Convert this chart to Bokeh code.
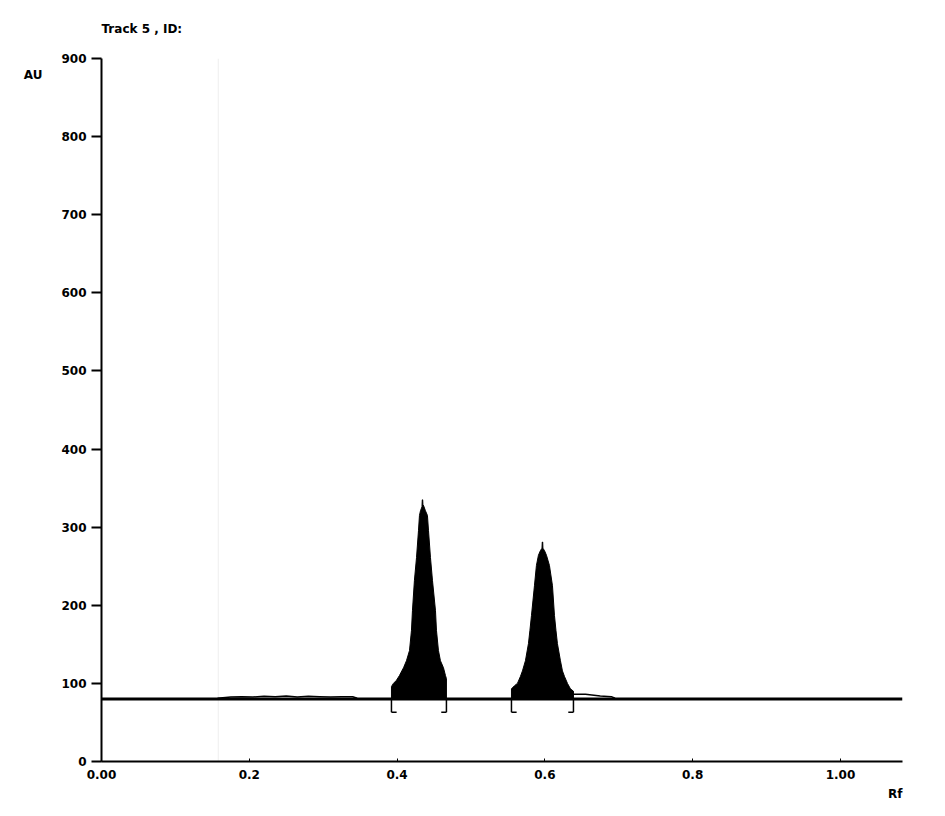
from bokeh.plotting import figure
from bokeh.models import Range1d, FixedTicker, Title
from bokeh.embed import file_html
from bokeh.resources import INLINE

# ---------------- data ----------------
x_ticks = [0.0, 0.2, 0.4, 0.6, 0.8, 1.0]
x_tick_labels = ["0.00", "0.2", "0.4", "0.6", "0.8", "1.00"]
y_ticks = [0, 100, 200, 300, 400, 500, 600, 700, 800, 900]

baseline_au = 80
rf_max = 1.084

# peak 1 outline (Rf, AU)
peak1_rf = [0.3924, 0.3924, 0.3951, 0.3992, 0.4032, 0.4087, 0.4127, 0.4168, 0.4195,
            0.4208, 0.4235, 0.4263, 0.4290, 0.4303, 0.4317, 0.4337, 0.4341, 0.4347,
            0.4351, 0.4357, 0.4384, 0.4411, 0.4425, 0.4452, 0.4479, 0.4520, 0.4533,
            0.4560, 0.4587, 0.4628, 0.4655, 0.4668, 0.4668]
peak1_au = [80, 96, 100, 104, 110, 120, 129, 142, 168,
            193, 232, 261, 296, 315, 321, 326, 335, 335,
            326, 328, 321, 315, 296, 261, 232, 193, 168,
            142, 129, 120, 110, 106, 80]

# peak 2 outline (Rf, AU)
peak2_rf = [0.5548, 0.5548, 0.5589, 0.5629, 0.5670, 0.5697, 0.5737, 0.5778, 0.5798,
            0.5819, 0.5859, 0.5886, 0.5913, 0.5940, 0.5961, 0.5965, 0.5971, 0.5974,
            0.5995, 0.6022, 0.6062, 0.6103, 0.6130, 0.6150, 0.6170, 0.6211, 0.6238,
            0.6265, 0.6306, 0.6346, 0.6387, 0.6387]
peak2_au = [80, 93, 97, 100, 109, 116, 129, 151, 168,
            187, 225, 251, 264, 270, 273, 281, 281, 273,
            270, 264, 251, 225, 187, 168, 151, 129, 116,
            109, 100, 93, 90, 80]

# small tail after peak 2
tail_rf = [0.6387, 0.655, 0.675, 0.690, 0.695]
tail_au = [86, 86, 84, 83, 81]

# baseline noise before peak 1
noise_rf = [0.157, 0.175, 0.19, 0.205, 0.22, 0.235, 0.25, 0.265, 0.28, 0.295, 0.31, 0.325, 0.34, 0.346]
noise_au = [81, 82.5, 83, 82.5, 83.5, 83, 84, 82.5, 83.5, 83, 82.5, 83, 83, 81]

# integration limits
peak_start = [0.3924, 0.5548]
peak_end = [0.4668, 0.6387]

# ---------------- figure ----------------
FONT = "DejaVu Sans"
FS = "12px"

p = figure(width=925, height=803, output_backend="svg", toolbar_location=None,
           x_range=Range1d(0, rf_max), y_range=Range1d(0, 900),
           min_border_left=101, min_border_right=23, min_border_top=58, min_border_bottom=39)
p.outline_line_color = None
p.xgrid.grid_line_color = None
p.ygrid.grid_line_color = None
p.background_fill_color = "white"

p.add_layout(Title(text="Track 5 , ID:", align="left", vertical_align="top", text_font=FONT,
                   text_font_style="bold", text_font_size=FS, text_color="black", standoff=42), "above")
p.add_layout(Title(text="Rf", align="right", text_font=FONT, text_font_style="bold",
                   text_font_size=FS, text_color="black", standoff=6), "below")

for ax in (p.xaxis[0], p.yaxis[0]):
    ax.axis_line_width = 2
    ax.axis_line_color = "black"
    ax.major_tick_line_color = "black"
    ax.major_tick_line_width = 2
    ax.minor_tick_line_color = None
    ax.major_label_text_font = FONT
    ax.major_label_text_font_style = "bold"
    ax.major_label_text_font_size = FS
    ax.major_label_text_color = "black"
    ax.axis_label_text_font = FONT
    ax.axis_label_text_font_style = "bold"
    ax.axis_label_text_font_size = FS
    ax.axis_label_text_color = "black"

p.yaxis[0].ticker = FixedTicker(ticks=y_ticks)
p.yaxis[0].major_tick_out = 10
p.yaxis[0].major_tick_in = 0
p.yaxis[0].major_label_standoff = 5
p.yaxis[0].axis_label = "\n\nAU"
p.yaxis[0].axis_label_orientation = "horizontal"
p.yaxis[0].axis_label_align = "end"
p.yaxis[0].axis_label_standoff = 16

p.xaxis[0].ticker = FixedTicker(ticks=x_ticks)
p.xaxis[0].major_label_overrides = {t: l for t, l in zip(x_ticks, x_tick_labels)}
p.xaxis[0].major_tick_out = 0
p.xaxis[0].major_tick_in = 3
p.xaxis[0].major_tick_line_width = 1
p.xaxis[0].major_label_standoff = 8

# faint vertical guide
p.segment(x0=[0.158], y0=[0], x1=[0.158], y1=[900], line_color="#eeeeee", line_width=1)

# peaks
p.patch(peak1_rf, peak1_au, fill_color="black", line_color="black", line_width=1)
p.patch(peak2_rf, peak2_au, fill_color="black", line_color="black", line_width=1)

# baseline noise and tail
p.line(noise_rf, noise_au, line_color="black", line_width=1.5)
p.line(tail_rf, tail_au, line_color="black", line_width=1.5)

# baseline
p.line([0, rf_max], [baseline_au, baseline_au], line_color="black", line_width=3)

# integration brackets
depth = 17
foot = 0.007
bx0, by0, bx1, by1 = [], [], [], []
for s, e in zip(peak_start, peak_end):
    bx0 += [s, s]; by0 += [baseline_au, baseline_au - depth]
    bx1 += [s, s + foot]; by1 += [baseline_au - depth, baseline_au - depth]
    bx0 += [e, e]; by0 += [baseline_au, baseline_au - depth]
    bx1 += [e, e - foot]; by1 += [baseline_au - depth, baseline_au - depth]
p.segment(x0=bx0, y0=by0, x1=bx1, y1=by1, line_color="black", line_width=1.5)

open("out.html", "w").write(file_html(p, INLINE))
